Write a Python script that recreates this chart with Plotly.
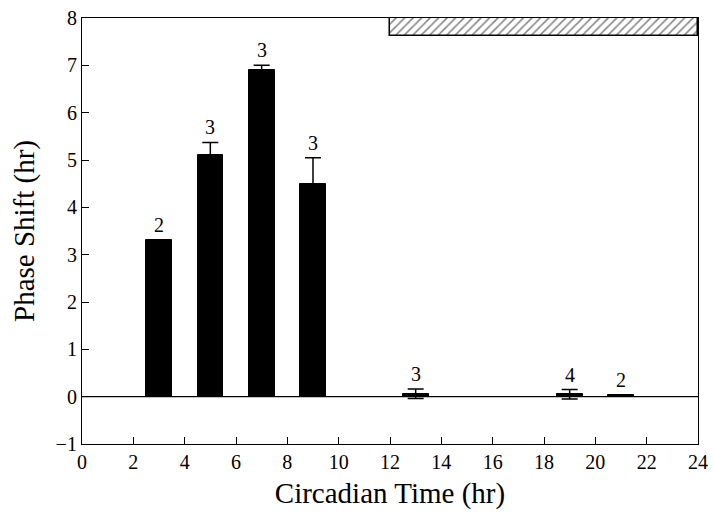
import plotly.graph_objects as go

ct = [3, 5, 7, 9, 13, 19, 21]
shift = [3.3, 5.1, 6.9, 4.5, 0.06, 0.05, 0.03]
err = [0.0, 0.27, 0.1, 0.55, 0.1, 0.1, 0.0]
n_labels = ["2", "3", "3", "3", "3", "4", "2"]

night_start, night_end = 12, 24
night_bottom, night_top = 7.62, 8.0

x_ticks = list(range(0, 25, 2))
y_ticks = list(range(-1, 9))

FONT = "Liberation Serif"

fig = go.Figure()

fig.add_trace(go.Bar(
    x=ct, y=shift, width=[1.0] * len(ct),
    marker=dict(color="black", line=dict(color="black", width=1)),
    error_y=dict(type="data", array=err, visible=True, color="black",
                 thickness=1.5, width=8),
    showlegend=False,
))

fig.add_trace(go.Bar(
    x=[(night_start + night_end) / 2], y=[night_top - night_bottom],
    base=[night_bottom], width=[night_end - night_start],
    marker=dict(color="white", line=dict(color="black", width=1.5),
                pattern=dict(shape="/", fgcolor="black", bgcolor="white",
                             size=6, solidity=0.25)),
    showlegend=False,
))

fig.add_shape(type="line", xref="paper", x0=0, x1=1, yref="y", y0=0, y1=0,
              line=dict(color="black", width=1.2))

for x, v, e, t in zip(ct, shift, err, n_labels):
    fig.add_annotation(x=x, y=v + e, text=t, showarrow=False, yanchor="bottom",
                       yshift=2, font=dict(family=FONT, size=20, color="black"))

fig.update_layout(
    width=713, height=515,
    margin=dict(l=82, r=15, t=18, b=71),
    paper_bgcolor="white", plot_bgcolor="white",
    barmode="overlay", bargap=0,
    font=dict(family=FONT, color="black"),
)
fig.update_xaxes(
    range=[0, 24], tickvals=x_ticks, ticks="inside", ticklen=7,
    tickcolor="black", showline=True, linecolor="black", linewidth=1.2,
    mirror=True, showgrid=False, zeroline=False, automargin=False,
    tickfont=dict(family=FONT, size=20),
    title=dict(text="Circadian Time (hr)", font=dict(family=FONT, size=29), standoff=10),
)
fig.update_yaxes(
    range=[-1, 8], tickvals=y_ticks, ticktext=["\u22121"] + [str(v) for v in y_ticks[1:]],
    ticks="inside", ticklen=7,
    tickcolor="black", showline=True, linecolor="black", linewidth=1.2,
    mirror=True, showgrid=False, zeroline=False, automargin=False,
    tickfont=dict(family=FONT, size=20),
    title=dict(text="Phase Shift (hr)", font=dict(family=FONT, size=29), standoff=12),
)

fig.write_html("out.html", config={"displayModeBar": False},
               post_script="document.body.style.margin='0';")
